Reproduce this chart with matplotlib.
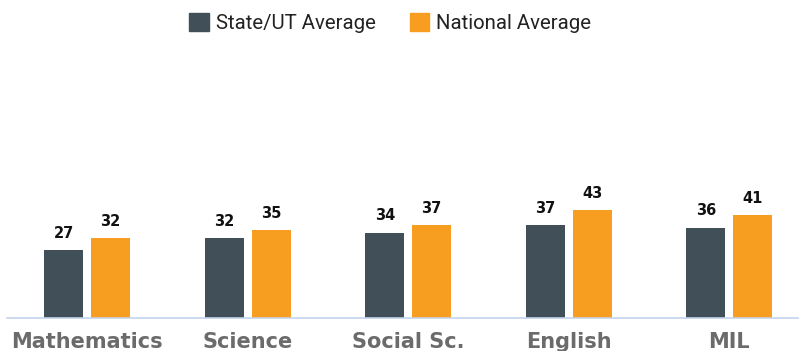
import matplotlib
matplotlib.use("Agg")
import matplotlib.pyplot as plt
from matplotlib.patches import Patch
import numpy as np

categories = ["Mathematics", "Science", "Social Sc.", "English", "MIL"]
state_avg = [27, 32, 34, 37, 36]
national_avg = [32, 35, 37, 43, 41]
series_names = ["State/UT Average", "National Average"]

dark = "#414f59"
orange = "#f79d1f"

plt.rcParams["font.family"] = ["DejaVu Sans"]

fig = plt.figure(figsize=(7.99, 3.51), dpi=100)
ax = fig.add_axes([7 / 799, 33 / 351, 792 / 799, 251 / 351])

x = np.arange(len(categories))
w = 0.243
off = 0.146
b1 = ax.bar(x - off, state_avg, w, color=dark)
b2 = ax.bar(x + off, national_avg, w, color=orange)

for bars, vals in ((b1, state_avg), (b2, national_avg)):
    for r, v in zip(bars, vals):
        ax.annotate(str(v), (r.get_x() + r.get_width() / 2, v),
                    xytext=(0, 12), textcoords="offset points",
                    ha="center", va="center", fontsize=10.5,
                    fontweight="bold", color="#111111",
                    family="DejaVu Sans")

ax.set_xlim(-0.5, 4.435)
ax.set_ylim(0, 100)
ax.set_yticks([])
ax.set_xticks(x)
ax.set_xticklabels(categories, fontsize=15, fontweight="bold", color="#6b6b6b",
                   family="DejaVu Sans")
ax.tick_params(axis="x", length=0, pad=10)
for s in ("top", "right", "left"):
    ax.spines[s].set_visible(False)
ax.spines["bottom"].set_color("#c5d3ec")
ax.spines["bottom"].set_linewidth(1.2)

handles = [Patch(color=dark), Patch(color=orange)]
fig.legend(handles, series_names, loc="upper center", bbox_to_anchor=(0.4885, 1.015),
           ncol=2, frameon=False, handlelength=0.95, handleheight=0.95,
           handletextpad=0.35, columnspacing=1.65,
           prop={"family": "Roboto", "size": 14.7}, labelcolor="#222222")

fig.savefig("out.png", dpi=100)
